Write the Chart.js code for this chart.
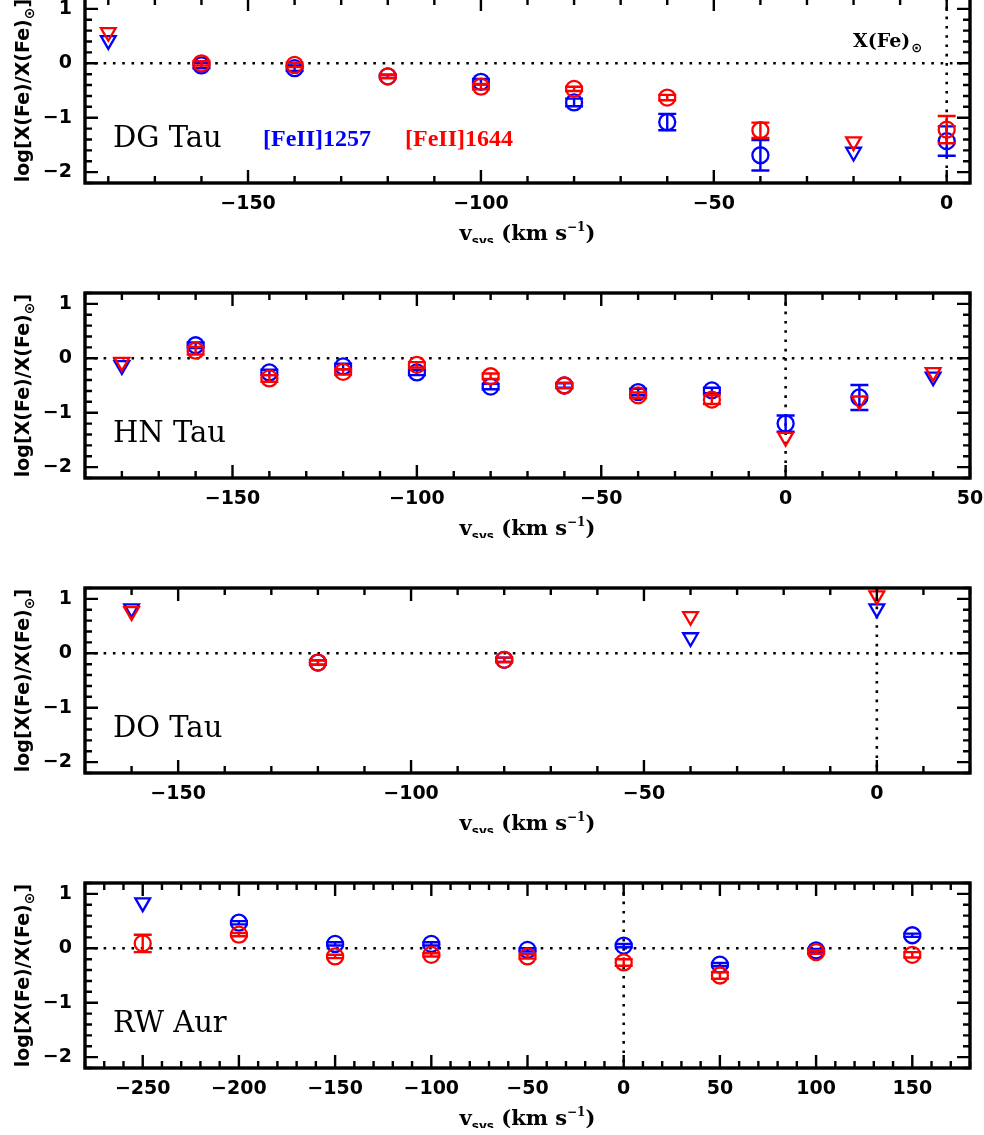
<!DOCTYPE html>
<html>
<head>
<meta charset="utf-8">
<script src="https://cdn.jsdelivr.net/npm/chart.js@4.4.0/dist/chart.umd.min.js"></script>
<style>
  html, body { margin: 0; padding: 0; background: #fff; }
  #page { position: relative; width: 984px; height: 1135px; overflow: hidden; background: #fff; }
  .panel { position: absolute; left: 0; }
</style>
</head>
<body>
<div id="page">
  <canvas class="panel" id="dg" width="984" height="255" style="top:-12px"></canvas>
  <canvas class="panel" id="hn" width="984" height="255" style="top:283px"></canvas>
  <canvas class="panel" id="do" width="984" height="255" style="top:578px"></canvas>
  <canvas class="panel" id="rw" width="984" height="255" style="top:873px"></canvas>
</div>
<script>
// DG Tau
const dgVel      = [-180, -160, -140, -120, -100, -80, -60, -40, -20, 0];
const dgBlue     = [0.42, -0.04, -0.09, -0.24, -0.34, -0.72, -1.08, -1.69, -1.63, -1.43];
const dgBlueErr  = [0, 0.05, 0.05, 0.03, 0.05, 0.07, 0.15, 0.28, 0, 0.27];
const dgBlueLim  = [1, 0, 0, 0, 0, 0, 0, 0, 1, 0];
const dgRed      = [0.57, 0.0, -0.03, -0.24, -0.43, -0.47, -0.63, -1.23, -1.44, -1.22];
const dgRedErr   = [0, 0.04, 0.04, 0.03, 0.05, 0.04, 0.05, 0.14, 0, 0.25];
const dgRedLim   = [1, 0, 0, 0, 0, 0, 0, 0, 1, 0];
const dgTicks    = [-150, -100, -50, 0];

// HN Tau
const hnVel      = [-180, -160, -140, -120, -100, -80, -60, -40, -20, 0, 20, 40];
const hnBlue     = [-0.13, 0.24, -0.26, -0.15, -0.26, -0.52, -0.5, -0.62, -0.59, -1.2, -0.72, -0.34];
const hnBlueErr  = [0, 0.05, 0.05, 0.05, 0.05, 0.05, 0.04, 0.06, 0.05, 0.15, 0.23, 0];
const hnBlueLim  = [1, 0, 0, 0, 0, 0, 0, 0, 0, 0, 0, 1];
const hnRed      = [-0.07, 0.14, -0.37, -0.25, -0.12, -0.33, -0.5, -0.68, -0.76, -1.45, -0.78, -0.26];
const hnRedErr   = [0, 0.07, 0.06, 0.05, 0.05, 0.05, 0.05, 0.05, 0.08, 0, 0, 0];
const hnRedLim   = [1, 0, 0, 0, 0, 0, 0, 0, 0, 1, 1, 1];
const hnTicks    = [-150, -100, -50, 0, 50];

// DO Tau
const doVel      = [-160, -120, -80, -40, 0];
const doBlue     = [0.82, -0.17, -0.12, 0.29, 0.82];
const doBlueErr  = [0, 0.04, 0.04, 0, 0];
const doBlueLim  = [1, 0, 0, 1, 1];
const doRed      = [0.77, -0.17, -0.12, 0.68, 1.06];
const doRedErr   = [0, 0.04, 0.04, 0, 0];
const doRedLim   = [1, 0, 0, 1, 1];
const doTicks    = [-150, -100, -50, 0];

// RW Aur
const rwVel      = [-250, -200, -150, -100, -50, 0, 50, 100, 150];
const rwBlue     = [0.84, 0.47, 0.08, 0.08, -0.03, 0.05, -0.3, -0.04, 0.24];
const rwBlueErr  = [0, 0.03, 0.03, 0.03, 0.03, 0.03, 0.03, 0.03, 0.03];
const rwBlueLim  = [1, 0, 0, 0, 0, 0, 0, 0, 0];
const rwRed      = [0.09, 0.25, -0.15, -0.12, -0.15, -0.26, -0.5, -0.07, -0.12];
const rwRedErr   = [0.16, 0.03, 0.03, 0.03, 0.04, 0.06, 0.06, 0.03, 0.05];
const rwRedLim   = [0, 0, 0, 0, 0, 0, 0, 0, 0];
const rwTicks    = [-250, -200, -150, -100, -50, 0, 50, 100, 150];

const yTicks = [-2, -1, 0, 1];

const BLUE = '#0000ff';
const RED = '#ff0000';
const SANS = '"DejaVu Sans", sans-serif';
const SERIF = '"DejaVu Serif", serif';

const fmt = v => (v < 0 ? '\u2212' + Math.abs(v) : String(v));

// frame, inward ticks, dotted zero lines, error bars and text
const framePlugin = {
  id: 'frame',
  beforeDatasetsDraw(chart) {
    const { ctx, chartArea: a, scales: { x, y } } = chart;
    ctx.save();
    ctx.strokeStyle = '#000';
    ctx.lineWidth = 2.6;
    ctx.setLineDash([2.6, 6.7]);
    const y0 = y.getPixelForValue(0);
    const x0 = x.getPixelForValue(0);
    ctx.beginPath(); ctx.moveTo(a.left, y0); ctx.lineTo(a.right, y0); ctx.stroke();
    ctx.beginPath(); ctx.moveTo(x0, a.top); ctx.lineTo(x0, a.bottom); ctx.stroke();
    ctx.restore();
  },
  afterDatasetDraw(chart, args) {
    const ds = chart.data.datasets[args.index];
    const { ctx, scales: { y } } = chart;
    ctx.save();
    ctx.strokeStyle = ds.borderColor;
    ctx.lineWidth = 2.4;
    args.meta.data.forEach((pt, i) => {
      const e = ds.err[i];
      if (!e || ds.lim[i]) return;
      const v = ds.data[i].y;
      const top = y.getPixelForValue(v + e);
      const bot = y.getPixelForValue(v - e);
      ctx.beginPath();
      ctx.moveTo(pt.x, top); ctx.lineTo(pt.x, bot);
      ctx.moveTo(pt.x - 9, top); ctx.lineTo(pt.x + 9, top);
      ctx.moveTo(pt.x - 9, bot); ctx.lineTo(pt.x + 9, bot);
      ctx.stroke();
    });
    ctx.restore();
  },
  afterDraw(chart, args, opts) {
    const { ctx, chartArea: a, scales: { x, y } } = chart;
    ctx.save();
    ctx.strokeStyle = '#000';
    ctx.lineWidth = 2.4;
    ctx.beginPath();
    const majX = x.ticks.map(t => t.value);
    for (let k = Math.ceil(x.min / 10); k * 10 <= x.max; k++) {
      const px = x.getPixelForValue(k * 10);
      const len = majX.includes(k * 10) ? 13 : 7;
      ctx.moveTo(px, a.bottom); ctx.lineTo(px, a.bottom - len);
      ctx.moveTo(px, a.top); ctx.lineTo(px, a.top + len);
    }
    for (let k = Math.ceil(y.min / 0.2 - 1e-6); k * 0.2 <= y.max + 1e-6; k++) {
      const v = k * 0.2;
      const py = y.getPixelForValue(v);
      const len = Math.abs(v - Math.round(v)) < 1e-6 ? 13 : 7;
      ctx.moveTo(a.left, py); ctx.lineTo(a.left + len, py);
      ctx.moveTo(a.right, py); ctx.lineTo(a.right - len, py);
    }
    ctx.stroke();
    ctx.lineWidth = 3.4;
    ctx.strokeRect(a.left, a.top, a.right - a.left, a.bottom - a.top);

    ctx.fillStyle = '#000';
    ctx.textBaseline = 'alphabetic';

    // y title
    ctx.save();
    ctx.translate(29, (a.top + a.bottom) / 2);
    ctx.rotate(-Math.PI / 2);
    const f1 = 'bold 19px ' + SANS, f2 = 'bold 14px ' + SANS;
    ctx.font = f1;
    const t1 = 'log[X(Fe)/X(Fe)', t3 = ']';
    const w1 = ctx.measureText(t1).width, w3 = ctx.measureText(t3).width;
    ctx.font = f2;
    const w2 = ctx.measureText('\u2299').width;
    let sx = -(w1 + w2 + w3) / 2;
    ctx.font = f1; ctx.fillText(t1, sx, 0); sx += w1;
    ctx.font = f2; ctx.fillText('\u2299', sx, 5); sx += w2;
    ctx.font = f1; ctx.fillText(t3, sx, 0);
    ctx.restore();

    // x title
    const fv = 'bold 21px ' + SERIF, fs = 'bold 12px ' + SANS, fe = 'bold 12px ' + SERIF;
    const parts = [
      ['v', fv, 0], ['sys', fs, 5], [' (km s', fv, 0], ['\u22121', fe, -9], [')', fv, 0]
    ];
    let tw = 0;
    parts.forEach(p => { ctx.font = p[1]; p.push(ctx.measureText(p[0]).width); tw += p[3]; });
    let cx = (a.left + a.right) / 2 - tw / 2;
    const by = a.bottom + 57;
    parts.forEach(p => { ctx.font = p[1]; ctx.fillText(p[0], cx, by + p[2]); cx += p[3]; });

    // star name
    ctx.font = '29px ' + SERIF;
    ctx.fillText(opts.name, a.left + 28, a.bottom - 36);

    if (opts.legend) {
      ctx.font = 'bold 24px "Liberation Serif", serif';
      ctx.fillStyle = BLUE;
      ctx.fillText('[FeII]1257', 263, a.bottom - 37);
      ctx.fillStyle = RED;
      ctx.fillText('[FeII]1644', 405, a.bottom - 37);
      ctx.fillStyle = '#000';
      ctx.font = 'bold 19px ' + SERIF;
      ctx.fillText('X(Fe)', 853, a.top + 49);
      const wx = ctx.measureText('X(Fe)').width;
      ctx.font = 'bold 13px ' + SANS;
      ctx.fillText('\u2299', 853 + wx + 1, a.top + 54);
    }
    ctx.restore();
  }
};

function series(vel, vals, err, lim, color, order) {
  return {
    data: vel.map((v, i) => ({ x: v, y: vals[i] })),
    err: err,
    lim: lim,
    order: order,
    borderColor: color,
    backgroundColor: 'rgba(0,0,0,0)',
    borderWidth: 2.3,
    pointStyle: lim.map(l => (l ? 'triangle' : 'circle')),
    rotation: lim.map(l => (l ? 180 : 0)),
    pointRadius: lim.map(l => (l ? 8.5 : 8)),
    showLine: false
  };
}

function makePanel(id, name, xMin, xMax, xTicks, blue, red, legend) {
  new Chart(document.getElementById(id), {
    type: 'scatter',
    data: {
      datasets: [
        series(...blue, BLUE, 2),
        series(...red, RED, 1)
      ]
    },
    options: {
      responsive: false,
      animation: false,
      events: [],
      layout: { autoPadding: false, padding: { top: 10, right: 14, left: 0, bottom: 0 } },
      plugins: {
        legend: { display: false },
        tooltip: { enabled: false },
        frame: { name: name, legend: legend }
      },
      scales: {
        x: {
          type: 'linear',
          min: xMin, max: xMax,
          afterBuildTicks: s => { s.ticks = xTicks.map(v => ({ value: v })); },
          afterFit: s => { s.height = 60; s.paddingLeft = 0; s.paddingRight = 0; },
          grid: { display: false, drawTicks: false },
          border: { display: false },
          ticks: {
            autoSkip: false, maxRotation: 0, padding: 10, color: '#000',
            font: { family: SANS, size: 19, weight: 'bold' },
            callback: v => fmt(v)
          }
        },
        y: {
          type: 'linear',
          min: -2.2, max: 1.2,
          afterBuildTicks: s => { s.ticks = yTicks.map(v => ({ value: v })); },
          afterFit: s => { s.width = 85; s.paddingTop = 0; s.paddingBottom = 0; },
          grid: { display: false, drawTicks: false },
          border: { display: false },
          ticks: {
            autoSkip: false, padding: 13, color: '#000',
            font: { family: SANS, size: 19, weight: 'bold' },
            callback: v => fmt(v)
          }
        }
      }
    },
    plugins: [framePlugin]
  });
}

makePanel('dg', 'DG Tau', -185, 5, dgTicks,
  [dgVel, dgBlue, dgBlueErr, dgBlueLim], [dgVel, dgRed, dgRedErr, dgRedLim], true);
makePanel('hn', 'HN Tau', -190, 50, hnTicks,
  [hnVel, hnBlue, hnBlueErr, hnBlueLim], [hnVel, hnRed, hnRedErr, hnRedLim], false);
makePanel('do', 'DO Tau', -170, 20, doTicks,
  [doVel, doBlue, doBlueErr, doBlueLim], [doVel, doRed, doRedErr, doRedLim], false);
makePanel('rw', 'RW Aur', -280, 180, rwTicks,
  [rwVel, rwBlue, rwBlueErr, rwBlueLim], [rwVel, rwRed, rwRedErr, rwRedLim], false);
</script>
</body>
</html>
